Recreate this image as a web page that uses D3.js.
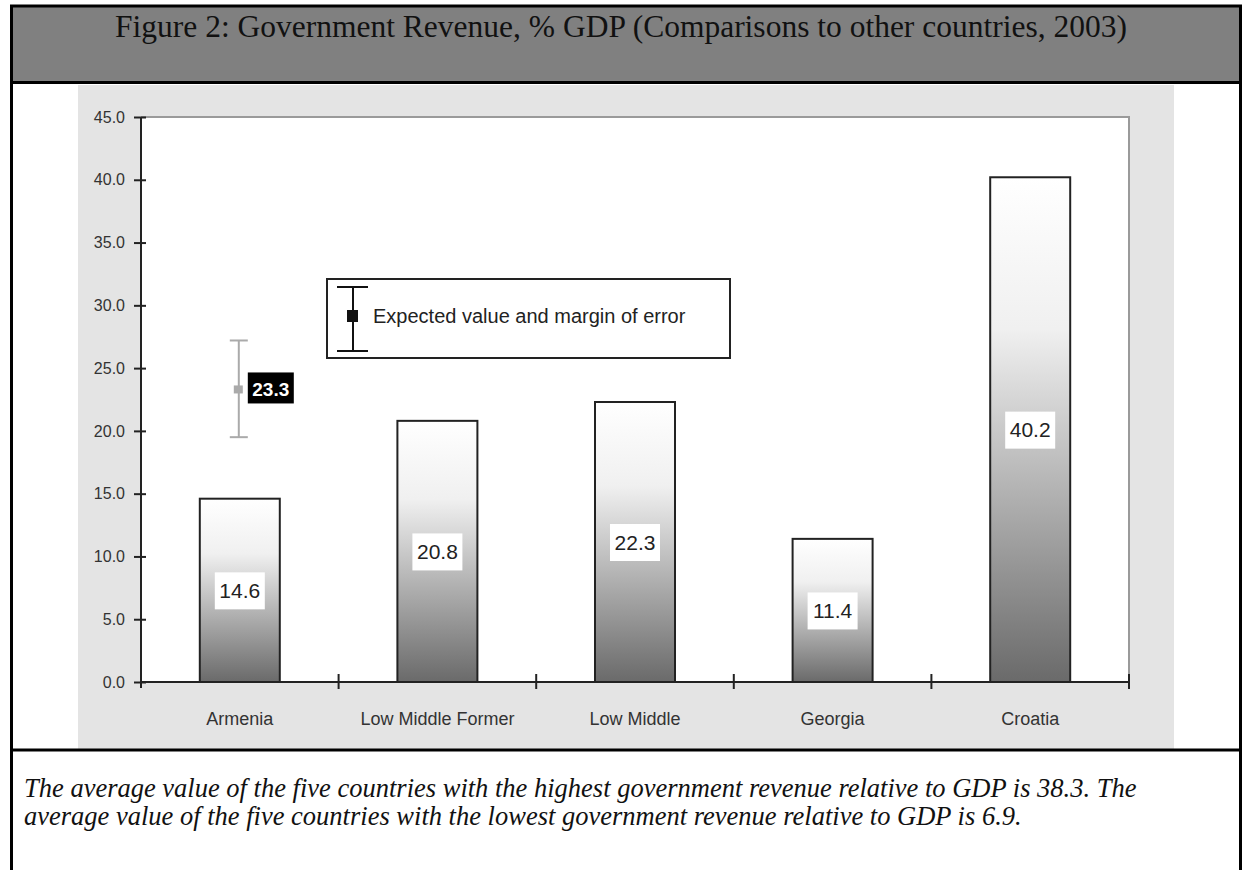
<!DOCTYPE html>
<html>
<head>
<meta charset="utf-8">
<script src="https://cdn.jsdelivr.net/npm/d3@7"></script>
<style>
  body { margin: 0; background: #fff; }
  svg { display: block; }
</style>
</head>
<body>
<script>
// chart values
const categories = ["Armenia", "Low Middle Former", "Low Middle", "Georgia", "Croatia"];
const values = [14.6, 20.8, 22.3, 11.4, 40.2];
const yTicks = [0, 5, 10, 15, 20, 25, 30, 35, 40, 45];
// expected value for Armenia with its margin of error
const expectedCategory = "Armenia";
const expectedValue = 23.3;
const marginRange = [19.5, 27.2];

const titleText = "Figure 2: Government Revenue, % GDP (Comparisons to other countries, 2003)";
const captionLines = [
  "The average value of the five countries with the highest government revenue relative to GDP is 38.3. The",
  "average value of the five countries with the lowest government revenue relative to GDP is 6.9."
];
const legendText = "Expected value and margin of error";

const W = 1242, H = 870;
const svg = d3.select("body").append("svg")
  .attr("width", W)
  .attr("height", H);

// gradient used by the bars (each bar gets its own stretch)
const grad = svg.append("defs").append("linearGradient")
  .attr("id", "barGrad")
  .attr("x1", 0).attr("y1", 0).attr("x2", 0).attr("y2", 1);
grad.append("stop").attr("offset", "0").attr("stop-color", "#ffffff");
grad.append("stop").attr("offset", "0.3").attr("stop-color", "#f0f0f0");
grad.append("stop").attr("offset", "1").attr("stop-color", "#6a6a6a");

// header band
svg.append("rect")
  .attr("x", 12).attr("y", 6)
  .attr("width", 1228).attr("height", 76)
  .attr("fill", "#808080");

svg.append("text")
  .attr("x", 621).attr("y", 37)
  .attr("text-anchor", "middle")
  .style("font-family", "'Liberation Serif', 'Times New Roman', serif")
  .style("font-size", "31.5px")
  .attr("fill", "#111")
  .text(titleText);

// light grey chart panel
svg.append("rect")
  .attr("x", 78).attr("y", 85)
  .attr("width", 1096).attr("height", 664)
  .attr("fill", "#e4e4e4");

// frame lines of the figure table
const frame = svg.append("g").attr("stroke", "#000").attr("fill", "none");
frame.append("line").attr("x1", 10).attr("x2", 1242).attr("y1", 6).attr("y2", 6).attr("stroke-width", 3);
frame.append("line").attr("x1", 10).attr("x2", 1242).attr("y1", 82.5).attr("y2", 82.5).attr("stroke-width", 3);
frame.append("line").attr("x1", 10).attr("x2", 1242).attr("y1", 750).attr("y2", 750).attr("stroke-width", 3);
frame.append("line").attr("x1", 11.5).attr("x2", 11.5).attr("y1", 5).attr("y2", H).attr("stroke-width", 3);
frame.append("line").attr("x1", 1240.5).attr("x2", 1240.5).attr("y1", 5).attr("y2", H).attr("stroke-width", 3);

// plot area
const plot = { left: 141, right: 1129, top: 117, bottom: 682 };

const x = d3.scaleBand()
  .domain(categories)
  .range([plot.left, plot.right])
  .padding(0);

const y = d3.scaleLinear()
  .domain([0, 45])
  .range([plot.bottom, plot.top]);

const barW = 80;

svg.append("rect")
  .attr("x", plot.left).attr("y", plot.top)
  .attr("width", plot.right - plot.left)
  .attr("height", plot.bottom - plot.top)
  .attr("fill", "#fff");

// top and right border in grey
svg.append("path")
  .attr("d", "M" + plot.left + "," + plot.top + "H" + plot.right + "V" + plot.bottom)
  .attr("fill", "none")
  .attr("stroke", "#9a9a9a")
  .attr("stroke-width", 2);

// bars
svg.selectAll(".bar")
  .data(categories)
  .enter().append("rect")
    .attr("class", "bar")
    .attr("x", d => x(d) + (x.bandwidth() - barW) / 2)
    .attr("y", (d, i) => y(values[i]))
    .attr("width", barW)
    .attr("height", (d, i) => y(0) - y(values[i]))
    .attr("fill", "url(#barGrad)")
    .attr("stroke", "#222")
    .attr("stroke-width", 2);

// value labels in white boxes at mid bar
const labels = svg.selectAll(".vlabel")
  .data(categories)
  .enter().append("g")
    .attr("class", "vlabel")
    .attr("transform", (d, i) =>
      "translate(" + (x(d) + x.bandwidth() / 2) + "," + y(values[i] / 2) + ")");

labels.append("rect")
  .attr("x", -25).attr("y", -18)
  .attr("width", 50).attr("height", 37)
  .attr("fill", "#fff");

labels.append("text")
  .attr("text-anchor", "middle")
  .attr("dy", "0.36em")
  .style("font-family", "'Liberation Sans', Arial, sans-serif")
  .style("font-size", "21px")
  .attr("fill", "#222")
  .text((d, i) => d3.format(".1f")(values[i]));

// y axis
const yAxis = svg.append("g")
  .attr("transform", "translate(" + plot.left + ",0)")
  .call(d3.axisLeft(y)
    .tickValues(yTicks)
    .tickFormat(d3.format(".1f"))
    .tickSizeOuter(0)
    .tickPadding(10));

yAxis.select(".domain").remove();
yAxis.selectAll(".tick line")
  .attr("x1", 5).attr("x2", -7)
  .attr("stroke", "#222")
  .attr("stroke-width", 2);
yAxis.selectAll(".tick text")
  .style("font-family", "'Liberation Sans', Arial, sans-serif")
  .style("font-size", "16px")
  .attr("fill", "#333");

svg.append("line")
  .attr("x1", plot.left).attr("x2", plot.left)
  .attr("y1", plot.top).attr("y2", plot.bottom + 6)
  .attr("stroke", "#222").attr("stroke-width", 2);

// x axis
const xAxis = svg.append("g")
  .attr("transform", "translate(0," + plot.bottom + ")")
  .call(d3.axisBottom(x).tickSize(0).tickPadding(30).tickSizeOuter(0));

xAxis.select(".domain").remove();
xAxis.selectAll(".tick text")
  .style("font-family", "'Liberation Sans', Arial, sans-serif")
  .style("font-size", "18px")
  .attr("fill", "#333");

svg.append("line")
  .attr("x1", plot.left - 1).attr("x2", plot.right)
  .attr("y1", plot.bottom).attr("y2", plot.bottom)
  .attr("stroke", "#222").attr("stroke-width", 2);

svg.selectAll(".xsep")
  .data(categories)
  .enter().append("line")
    .attr("class", "xsep")
    .attr("x1", d => x(d) + x.bandwidth())
    .attr("x2", d => x(d) + x.bandwidth())
    .attr("y1", plot.bottom - 8)
    .attr("y2", plot.bottom + 7)
    .attr("stroke", "#222")
    .attr("stroke-width", 2);

// expected value with margin of error (Armenia)
const ex = x(expectedCategory) + x.bandwidth() / 2 - 1;
const eb = svg.append("g").attr("stroke", "#aaa").attr("stroke-width", 2);
eb.append("line")
  .attr("x1", ex).attr("x2", ex)
  .attr("y1", y(marginRange[1])).attr("y2", y(marginRange[0]));
eb.selectAll(".cap")
  .data(marginRange)
  .enter().append("line")
    .attr("x1", ex - 9).attr("x2", ex + 9)
    .attr("y1", d => y(d)).attr("y2", d => y(d));
svg.append("rect")
  .attr("x", ex - 5).attr("y", y(expectedValue) - 4)
  .attr("width", 9).attr("height", 8)
  .attr("fill", "#aaa");

svg.append("rect")
  .attr("x", ex + 9).attr("y", y(expectedValue) - 17)
  .attr("width", 46).attr("height", 31)
  .attr("fill", "#000");
svg.append("text")
  .attr("x", ex + 32).attr("y", y(expectedValue))
  .attr("dy", "0.36em")
  .attr("text-anchor", "middle")
  .style("font-family", "'Liberation Sans', Arial, sans-serif")
  .style("font-size", "19px")
  .style("font-weight", "bold")
  .attr("fill", "#fff")
  .text(d3.format(".1f")(expectedValue));

// legend box
const legend = svg.append("g").attr("transform", "translate(327,279)");
legend.append("rect")
  .attr("width", 403).attr("height", 79)
  .attr("fill", "#fff")
  .attr("stroke", "#222")
  .attr("stroke-width", 2);
const lg = legend.append("g").attr("stroke", "#111").attr("stroke-width", 2);
lg.append("line").attr("x1", 26).attr("x2", 26).attr("y1", 8).attr("y2", 72);
lg.append("line").attr("x1", 10).attr("x2", 41).attr("y1", 8).attr("y2", 8);
lg.append("line").attr("x1", 10).attr("x2", 41).attr("y1", 72).attr("y2", 72);
legend.append("rect")
  .attr("x", 20).attr("y", 31)
  .attr("width", 11).attr("height", 12)
  .attr("fill", "#111");
legend.append("text")
  .attr("x", 46).attr("y", 37)
  .attr("dy", "0.36em")
  .style("font-family", "'Liberation Sans', Arial, sans-serif")
  .style("font-size", "20px")
  .attr("fill", "#222")
  .text(legendText);

// caption
svg.selectAll(".caption")
  .data(captionLines)
  .enter().append("text")
    .attr("class", "caption")
    .attr("x", 24)
    .attr("y", (d, i) => 797 + i * 28)
    .style("font-family", "'Liberation Serif', 'Times New Roman', serif")
    .style("font-size", "26.5px")
    .style("font-style", "italic")
    .attr("fill", "#111")
    .text(d => d);
</script>
</body>
</html>
